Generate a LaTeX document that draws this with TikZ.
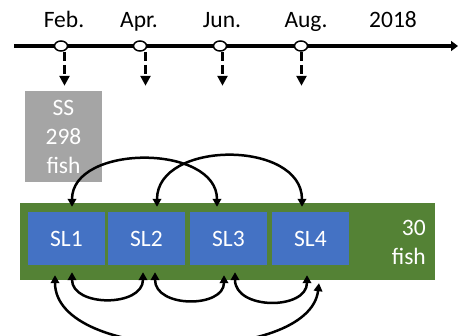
\documentclass[tikz,border=0pt]{standalone}
\usepackage{fontspec}
\setmainfont{Carlito}
\usetikzlibrary{arrows.meta,calc,shapes.geometric}
\definecolor{slblue}{HTML}{4472C4}
\definecolor{bandgreen}{HTML}{548235}
\definecolor{ssgray}{HTML}{A5A5A5}
\begin{document}
\begin{tikzpicture}[x=1pt,y=-1pt,
  lbl/.style={font=\fontsize{23.5}{29}\selectfont, inner sep=0pt},
  tickmark/.style={ellipse, draw=black, line width=1.5pt, fill=white, minimum width=13pt, minimum height=10pt, inner sep=0pt},
  drop/.style={line width=3.2pt, dash pattern=on 9pt off 4pt, -{Triangle[length=10pt,width=10pt]}},
  slbox/.style={rectangle, fill=slblue, minimum width=77pt, minimum height=53pt, text=white, font=\fontsize{23.5}{29}\selectfont, inner sep=0pt},
  link/.style={line width=2.5pt, {Triangle[length=8pt,width=8.5pt]}-{Triangle[length=8pt,width=8.5pt]}},
]
\useasboundingbox (0,0) rectangle (458,335);
% timeline
\coordinate (tl0) at (14,46);
\coordinate (tl1) at (458,46);
\draw[line width=3.5pt, -{Triangle[length=7pt,width=10pt]}] (tl0) -- (tl1);
\node[tickmark] (t1) at (61,46) {};
\node[tickmark] (t2) at (140,46) {};
\node[tickmark] (t3) at (220,46) {};
\node[tickmark] (t4) at (301,46) {};
\node[lbl, anchor=base] (m1) at (64,27) {Feb.};
\node[lbl, anchor=base] (m2) at (139,27) {Apr.};
\node[lbl, anchor=base] (m3) at (222,27) {Jun.};
\node[lbl, anchor=base] (m4) at (306,27) {Aug.};
\node[lbl, anchor=base] (yr) at (393,27) {2018};
\coordinate (d1) at ($(t1.south)+(3.5,34)$);
\coordinate (d2) at ($(t2.south)+(5.5,34)$);
\coordinate (d3) at ($(t3.south)+(2.5,34)$);
\coordinate (d4) at ($(t4.south)+(0.5,34)$);
\draw[drop] ($(t1.south)+(3.5,0)$) -- (d1);
\draw[drop] ($(t2.south)+(5.5,0)$) -- (d2);
\draw[drop] ($(t3.south)+(2.5,0)$) -- (d3);
\draw[drop] ($(t4.south)+(0.5,0)$) -- (d4);
% SS box
\node[rectangle, fill=ssgray, minimum width=77pt, minimum height=91pt, inner sep=0pt,
      text=white, align=center, font=\fontsize{23.5}{29}\selectfont] (ss) at (63.5,136.5) {SS\\298\\fish};
% green band
\node[rectangle, fill=bandgreen, minimum width=415pt, minimum height=77pt, inner sep=0pt] (band) at (227.5,241.5) {};
\node[lbl, text=white, align=right, anchor=east] (cnt) at (426,242) {30\\fish};
\node[slbox] (sl1) at (66.5,238.5) {SL1};
\node[slbox] (sl2) at (146.5,238.5) {SL2};
\node[slbox] (sl3) at (228.5,238.5) {SL3};
\node[slbox] (sl4) at (310.5,238.5) {SL4};
% top arcs
\coordinate (a1) at ($(sl1.north)+(5.5,-5)$);
\coordinate (a3) at ($(sl3.north)+(-11.5,-5)$);
\coordinate (a2) at ($(sl2.north)+(10.5,-5)$);
\coordinate (a4) at ($(sl4.north)+(-8.5,-5)$);
\draw[link] (a1) .. controls ($(a1)+(0,-63)$) and ($(a3)+(0,-63)$) .. (a3);
\draw[link] (a2) .. controls ($(a2)+(0,-67)$) and ($(a4)+(0,-67)$) .. (a4);
% bottom arcs
\coordinate (b1r) at ($(sl1.south)+(5.5,7)$);
\coordinate (b2l) at ($(sl2.south)+(-3.5,7)$);
\coordinate (b2r) at ($(sl2.south)+(8.5,7)$);
\coordinate (b3l) at ($(sl3.south)+(-4.5,10)$);
\coordinate (b3r) at ($(sl3.south)+(6.5,7)$);
\coordinate (b4l) at ($(sl4.south)+(-3.5,10)$);
\coordinate (b1l) at ($(sl1.south)+(-11.5,10)$);
\coordinate (b4r) at ($(sl4.south)+(8.5,18)$);
\draw[link] (b1r) .. controls ($(b1r)+(0,35)$) and ($(b2l)+(0,35)$) .. (b2l);
\draw[link] (b2r) .. controls ($(b2r)+(0,36)$) and ($(b3l)+(0,33)$) .. (b3l);
\draw[link] (b3r) .. controls ($(b3r)+(0,38)$) and ($(b4l)+(0,35)$) .. (b4l);
\draw[link] (b1l) .. controls ($(b1l)+(0,88)$) and ($(b4r)+(-10,82)$) .. (b4r);
\end{tikzpicture}
\end{document}
